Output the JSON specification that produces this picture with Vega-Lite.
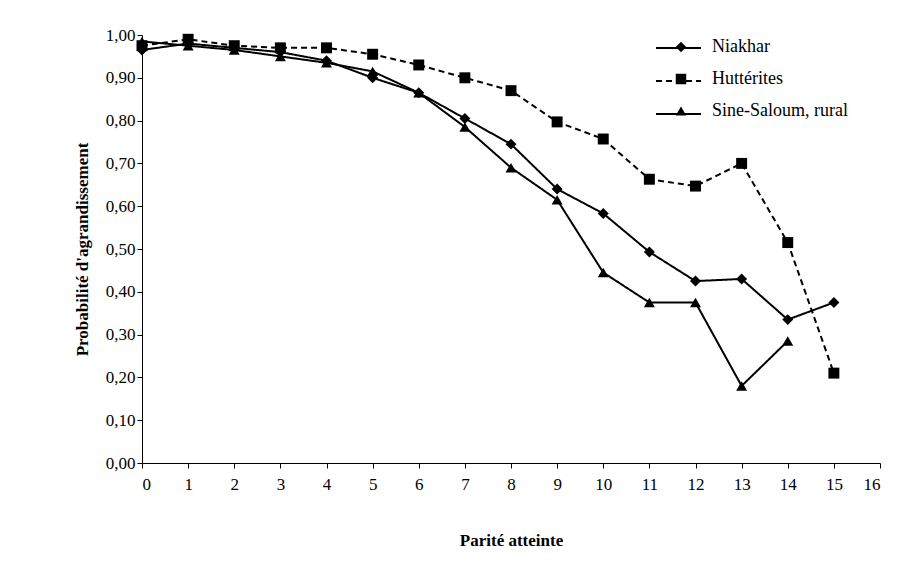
{
  "$schema": "https://vega.github.io/schema/vega-lite/v6.json",
  "width": 738,
  "height": 428,
  "autosize": "none",
  "padding": {"left": 142, "top": 35, "right": 27, "bottom": 111},
  "background": "white",
  "config": {
    "font": "Liberation Serif",
    "view": {"stroke": null},
    "axis": {"labelFont": "Liberation Serif", "titleFont": "Liberation Serif", "labelFontSize": 17, "titleFontSize": 17, "labelColor": "black", "titleColor": "black", "domainColor": "black", "tickColor": "black", "grid": false},
    "legend": {"labelFont": "Liberation Serif", "labelFontSize": 18, "labelColor": "black", "padding": 0}
  },
  "data": {"values": [
    {"p": 0, "s": "Niakhar", "v": 0.965}, {"p": 1, "s": "Niakhar", "v": 0.98}, {"p": 2, "s": "Niakhar", "v": 0.97}, {"p": 3, "s": "Niakhar", "v": 0.96},
    {"p": 4, "s": "Niakhar", "v": 0.94}, {"p": 5, "s": "Niakhar", "v": 0.90}, {"p": 6, "s": "Niakhar", "v": 0.865}, {"p": 7, "s": "Niakhar", "v": 0.805},
    {"p": 8, "s": "Niakhar", "v": 0.745}, {"p": 9, "s": "Niakhar", "v": 0.64}, {"p": 10, "s": "Niakhar", "v": 0.583}, {"p": 11, "s": "Niakhar", "v": 0.493},
    {"p": 12, "s": "Niakhar", "v": 0.425}, {"p": 13, "s": "Niakhar", "v": 0.43}, {"p": 14, "s": "Niakhar", "v": 0.335}, {"p": 15, "s": "Niakhar", "v": 0.375},
    {"p": 0, "s": "Huttérites", "v": 0.975}, {"p": 1, "s": "Huttérites", "v": 0.99}, {"p": 2, "s": "Huttérites", "v": 0.975}, {"p": 3, "s": "Huttérites", "v": 0.97},
    {"p": 4, "s": "Huttérites", "v": 0.97}, {"p": 5, "s": "Huttérites", "v": 0.955}, {"p": 6, "s": "Huttérites", "v": 0.93}, {"p": 7, "s": "Huttérites", "v": 0.90},
    {"p": 8, "s": "Huttérites", "v": 0.87}, {"p": 9, "s": "Huttérites", "v": 0.797}, {"p": 10, "s": "Huttérites", "v": 0.757}, {"p": 11, "s": "Huttérites", "v": 0.663},
    {"p": 12, "s": "Huttérites", "v": 0.647}, {"p": 13, "s": "Huttérites", "v": 0.70}, {"p": 14, "s": "Huttérites", "v": 0.515}, {"p": 15, "s": "Huttérites", "v": 0.21},
    {"p": 0, "s": "Sine-Saloum, rural", "v": 0.985}, {"p": 1, "s": "Sine-Saloum, rural", "v": 0.975}, {"p": 2, "s": "Sine-Saloum, rural", "v": 0.965}, {"p": 3, "s": "Sine-Saloum, rural", "v": 0.95},
    {"p": 4, "s": "Sine-Saloum, rural", "v": 0.935}, {"p": 5, "s": "Sine-Saloum, rural", "v": 0.915}, {"p": 6, "s": "Sine-Saloum, rural", "v": 0.865}, {"p": 7, "s": "Sine-Saloum, rural", "v": 0.785},
    {"p": 8, "s": "Sine-Saloum, rural", "v": 0.69}, {"p": 9, "s": "Sine-Saloum, rural", "v": 0.615}, {"p": 10, "s": "Sine-Saloum, rural", "v": 0.445}, {"p": 11, "s": "Sine-Saloum, rural", "v": 0.375},
    {"p": 12, "s": "Sine-Saloum, rural", "v": 0.375}, {"p": 13, "s": "Sine-Saloum, rural", "v": 0.18}, {"p": 14, "s": "Sine-Saloum, rural", "v": 0.285}
  ]},
  "encoding": {
    "x": {"field": "p", "type": "quantitative", "scale": {"domain": [0, 16], "nice": false}, "axis": {"title": "Parité atteinte", "values": [0,1,2,3,4,5,6,7,8,9,10,11,12,13,14,15,16], "labelPadding": 8, "titlePadding": 40}},
    "y": {"field": "v", "type": "quantitative", "scale": {"domain": [0, 1], "nice": false}, "axis": {"title": "Probabilité d'agrandissement", "values": [0,0.1,0.2,0.3,0.4,0.5,0.6,0.7,0.8,0.9,1], "format": ".2f", "labelExpr": "replace(datum.label, '.', ',')", "titlePadding": 14}}
  },
  "resolve": {"scale": {"shape": "independent", "strokeDash": "independent"}, "legend": {"shape": "independent", "strokeDash": "independent"}},
  "layer": [
    {
      "mark": {"type": "line", "color": "black", "strokeWidth": 2},
      "encoding": {
        "detail": {"field": "s"},
        "strokeDash": {"field": "s", "type": "nominal", "scale": {"domain": ["Niakhar", "Huttérites", "Sine-Saloum, rural"], "range": [[1, 0], [6, 4], [1, 0]]},
          "legend": {"title": null, "orient": "none", "legendX": 513, "legendY": -10.5, "symbolType": "stroke", "symbolSize": 2025, "symbolStrokeWidth": 2, "symbolStrokeColor": "black", "rowPadding": -13, "labelExpr": "''"}}
      }
    },
    {
      "transform": [{"fold": ["s"], "as": ["k", "m"]}],
      "mark": {"type": "point", "filled": true, "color": "black", "opacity": 1, "size": 120},
      "encoding": {
        "shape": {"field": "m", "type": "nominal", "scale": {"domain": ["Niakhar", "Huttérites", "Sine-Saloum, rural"], "range": ["diamond", "square", "triangle-up"]},
          "legend": {"title": null, "orient": "none", "legendX": 530, "legendY": 3, "symbolFillColor": "black", "symbolStrokeColor": "black", "symbolSize": 110, "rowPadding": 14, "labelOffset": 22}}
      }
    }
  ]
}
